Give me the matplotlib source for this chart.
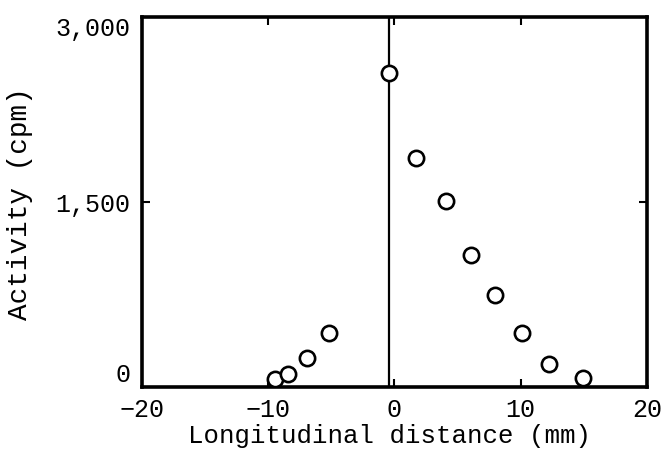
import numpy as np
import matplotlib.pyplot as plt

odleglosc = [-9.5, -8.4, -6.9, -5.2, -0.45, 1.7, 4.1, 6.1, 8.0, 10.1, 12.2, 14.9]
aktywnosc = [65, 105, 235, 440, 2550, 1860, 1505, 1070, 745, 440, 190, 75]

xticki = [-20, -10, 0, 10, 20]
yticki = [0, 1500, 3000]
yetykiety = ["0", "1,500", "3,000"]
linia_x = -0.4

plt.rcParams['font.family'] = ['Liberation Mono', 'DejaVu Sans Mono']

fig = plt.figure(figsize=(6.61, 4.51), dpi=100)
ax = fig.add_axes([0.2148, 0.1419, 0.764, 0.8204])

ax.axvline(linia_x, color='black', linewidth=1.6, zorder=1)
ax.plot(odleglosc, aktywnosc, linestyle='none', marker='o', markersize=11,
        markerfacecolor='white', markeredgecolor='black', markeredgewidth=1.9, zorder=3)

ax.set_xlim(-20, 20)
ax.set_ylim(0, 3000)
ax.set_xticks(xticki)
ax.set_yticks(yticki)
ax.set_yticklabels(yetykiety)
ax.tick_params(direction='in', length=6, width=1.5, top=True, right=True,
               labelsize=18, colors='black')
ax.tick_params(axis='x', pad=8)
ax.tick_params(axis='y', pad=8.5)
# etykiety 0 i 3,000 przesuniete jak w oryginale
yl = ax.get_yticklabels()
yl[0].set_va('bottom')
yl[2].set_va('top')
for s in ax.spines.values():
    s.set_linewidth(2.6)

ax.set_xlabel("Longitudinal distance (mm)", fontsize=18.5)
ax.set_ylabel("Activity (cpm)", fontsize=20)
ax.xaxis.set_label_coords(0.49, -0.1)
ax.yaxis.set_label_coords(-0.216, 0.495)

fig.savefig("out.png", dpi=100)
